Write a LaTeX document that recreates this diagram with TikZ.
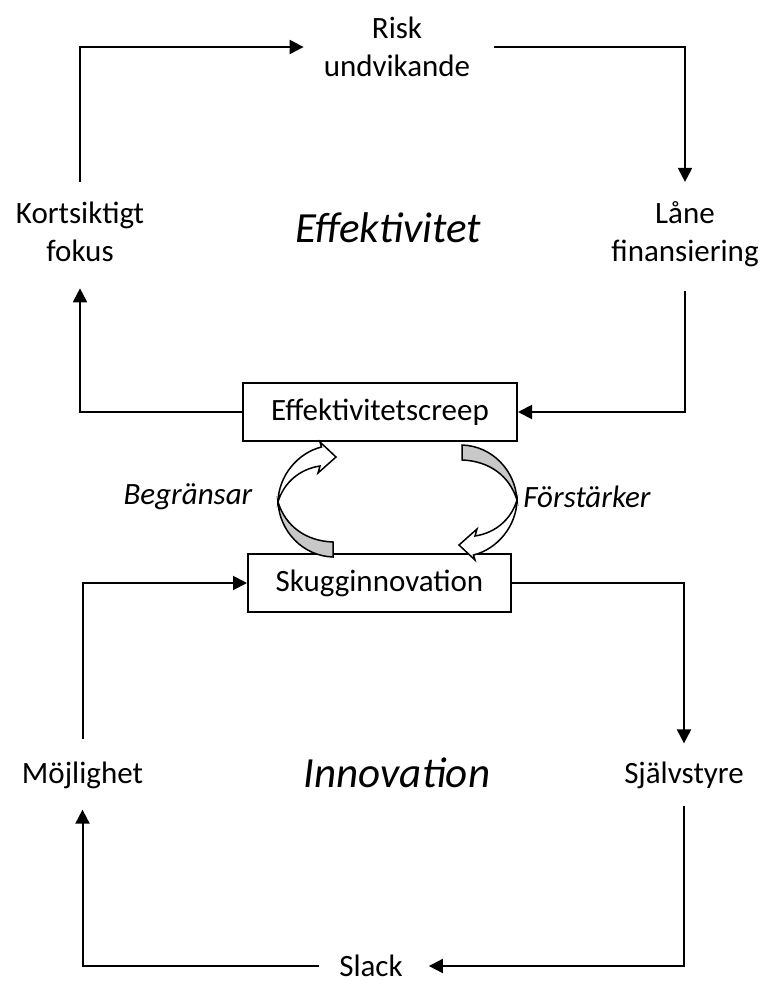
\documentclass[tikz,border=0pt]{standalone}
\usepackage{fontspec}
\setmainfont{Carlito}
\usetikzlibrary{arrows.meta}

% one half of the two-way cycle between the boxes: a twisted ribbon arrow
\newcommand\ribbonarrow{%
  \filldraw[ribbon, fill=ribbongray]
    (-119.5,1) .. controls (-118,30) and (-95,55) .. (-64.5,56)
    -- (-64.5,41) .. controls (-92,40) and (-112,25) .. (-119.5,1) -- cycle;
  \filldraw[ribbon, fill=white]
    (-119.5,1) .. controls (-119,-25) and (-100,-48) .. (-76,-54)
    -- (-77.5,-59) -- (-61.5,-44) -- (-79.5,-28) -- (-77.5,-35)
    .. controls (-98,-32) and (-114,-18) .. (-119.5,1) -- cycle;
}

\definecolor{ribbongray}{RGB}{200,200,200}

\begin{document}
\begin{tikzpicture}[x=1pt, y=-1pt,
  lbl/.style={font=\fontsize{31}{38.5}\selectfont, align=center, inner sep=0pt},
  theme/.style={font=\fontsize{43}{51}\selectfont\itshape, inner sep=0pt},
  side/.style={font=\fontsize{31}{39}\selectfont\itshape, inner sep=0pt},
  box/.style={draw, line width=2pt, fill=white, inner sep=0pt,
              font=\fontsize{31}{39}\selectfont},
  flow/.style={line width=2pt, -{Triangle[length=14pt, width=14pt]}},
  ribbon/.style={line width=1.5pt, line join=miter}]

\useasboundingbox (0,0) rectangle (760,985);

% upper loop
\node[lbl] (risk) at (397,47) {Risk\\undvikande};
\node[lbl] (kort) at (80,232) {Kortsiktigt\\fokus};
\node[lbl] (lane) at (685,234) {Låne\\finansiering};
\node[theme] (eff) at (388,228) {Effektivitet};
\node[box, minimum width=274pt, minimum height=58pt] (ecreep) at (380,412) {Effektivitetscreep};

% lower loop
\node[box, minimum width=263pt, minimum height=58pt] (skugg) at (379.5,583) {Skugginnovation};
\node[lbl] (mojl) at (82.5,775) {Möjlighet};
\node[lbl] (sjalv) at (684,775) {Självstyre};
\node[theme] (inno) at (397,773) {Innovation};
\node[lbl] (slack) at (371,966) {Slack};

% relations between the boxes
\node[side] (begr) at (188,497) {Begränsar};
\node[side] (forst) at (587,497) {Förstärker};

% connectors of the upper loop
\draw[flow] ([yshift=20pt]kort.north) |- ([xshift=-20pt]risk.west);
\draw[flow] ([xshift=24pt]risk.east) -| ([yshift=19pt]lane.north);
\draw[flow] ([yshift=-24pt]lane.south) |- (ecreep.east);
\draw[flow] (ecreep.west) -| ([yshift=-26pt]kort.south);

% connectors of the lower loop
\draw[flow] ([yshift=22pt]mojl.north) |- (skugg.west);
\draw[flow] (skugg.east) -| ([yshift=18pt]sjalv.north);
\draw[flow] ([yshift=-17pt]sjalv.south) |- ([xshift=26pt]slack.east);
\draw[flow] ([xshift=-20pt]slack.west) -| ([yshift=-21pt]mojl.south);

% curved arrows linking the two boxes
\begin{scope}[shift={(397.5,501)}]
  \ribbonarrow
\end{scope}
\begin{scope}[shift={(397.5,501)}, rotate=180]
  \ribbonarrow
\end{scope}

\end{tikzpicture}
\end{document}
